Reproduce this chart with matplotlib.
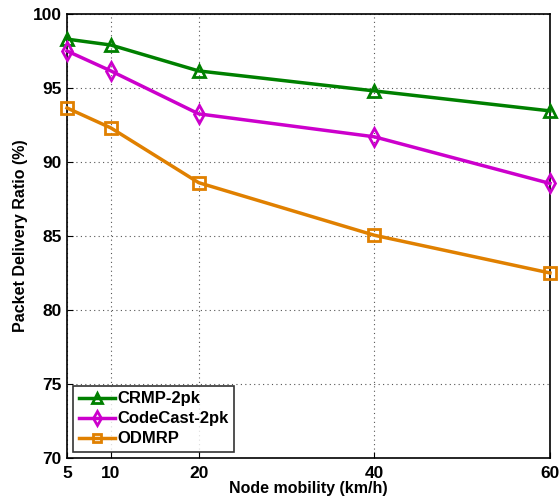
import numpy as np
import matplotlib
matplotlib.use('Agg')
import matplotlib.pyplot as plt

plt.rcParams['font.family'] = ['Liberation Sans', 'DejaVu Sans']
plt.rcParams['font.weight'] = 'bold'

mobility = [5, 10, 20, 40, 60]
crmp = [98.3, 97.9, 96.15, 94.8, 93.45]
codecast = [97.5, 96.15, 93.25, 91.7, 88.55]
odmrp = [93.65, 92.3, 88.6, 85.05, 82.5]

fig = plt.figure(figsize=(5.6, 4.98), dpi=100)
ax = fig.add_axes([0.1196, 0.0803, 0.8625, 0.8917])

ax.plot(mobility, crmp, color='#008000', lw=2.5, marker='^', ms=9, mfc='none', mew=2,
        label='CRMP-2pk', clip_on=False, zorder=3)
ax.plot(mobility, codecast, color='#cc00cc', lw=2.5, marker='d', ms=9, mfc='none', mew=2,
        label='CodeCast-2pk', clip_on=False, zorder=3)
ax.plot(mobility, odmrp, color='#e08000', lw=2.5, marker='s', ms=8, mfc='none', mew=2,
        label='ODMRP', clip_on=False, zorder=3)

ax.set_xlim(5, 60)
ax.set_ylim(70, 100)
ax.set_xticks(mobility)
ax.set_yticks(np.arange(70, 101, 5))
ax.tick_params(labelsize=12.5, direction='in', length=4)
ax.tick_params(axis='x', pad=6)
ax.tick_params(axis='y', pad=4)
ax.grid(True, linestyle=(0, (1, 3)), color='#555555', lw=0.8)
for s in ax.spines.values():
    s.set_linewidth(1.2)

ax.set_xlabel('Node mobility (km/h)', fontsize=11.5, fontweight='bold', labelpad=0)
ax.set_ylabel('Packet Delivery Ratio (%)', fontsize=11.5, fontweight='bold', labelpad=3)

leg = ax.legend(loc='lower left', fontsize=12, fancybox=False, edgecolor='black',
                handlelength=2.2, borderaxespad=0.35, labelspacing=0.3, markerscale=0.8,
                borderpad=0.35, handletextpad=0.1)
leg.get_frame().set_linewidth(1.2)

plt.savefig('out.png', dpi=100)
